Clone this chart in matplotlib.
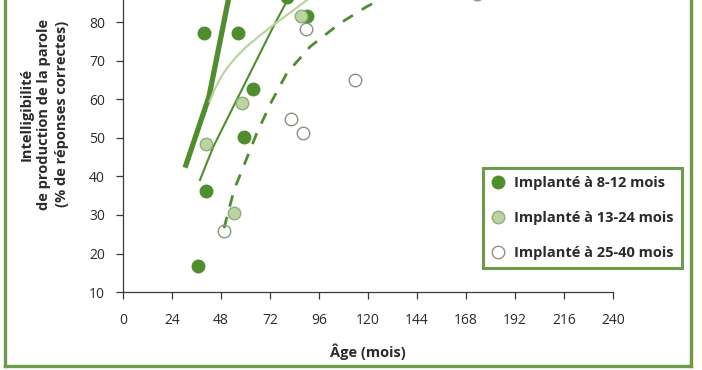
import numpy as np
import matplotlib.pyplot as plt
from matplotlib.lines import Line2D

# points (age in months, % correct)
age_8_12 = [36.7, 39.7, 40.6, 56.2, 59.4, 63.5, 80.5, 90.1]
score_8_12 = [16.8, 77.3, 36.3, 77.3, 50.3, 62.6, 86.5, 81.7]

age_13_24 = [40.5, 54.5, 58.4, 87.2]
score_13_24 = [48.4, 30.5, 59.0, 81.7]

age_25_40 = [49.3, 82.1, 88.3, 89.6, 113.6, 173.4]
score_25_40 = [25.9, 54.9, 51.4, 78.3, 65.1, 87.5]

# trend curves, traced by eye
thick_age = [30.4, 42.1, 52.4]
thick_score = [42.3, 60.7, 88.0]

thin_age = [37.7, 44.2, 54.0, 63.8, 73.6, 80.5, 82.0]
thin_score = [39.1, 47.7, 58.1, 68.5, 78.9, 85.8, 87.5]

light_age = [42.5, 45.0, 48.0, 51.0, 55.0, 60.0, 67.0, 75.0, 82.0, 89.0, 93.0]
light_score = [59.5, 62.8, 65.8, 68.2, 70.8, 73.5, 76.6, 79.9, 82.6, 85.4, 87.0]

dash_age = [49.5, 54.4, 59.7, 65.5, 72.5, 80.2, 91.6, 106.3, 119.3, 128.0]
dash_score = [26.6, 36.5, 43.5, 51.2, 59.2, 66.8, 73.7, 79.8, 84.1, 86.5]

xticks = [0, 24, 48, 72, 96, 120, 144, 168, 192, 216, 240]
yticks = [10, 20, 30, 40, 50, 60, 70, 80]

dark = "#4f8d2e"
light = "#bcd3a3"
light_edge = "#8fae78"
open_edge = "#8a9484"
frame_green = "#6b9b4b"
text_col = "#2b2b2b"

plt.rcParams['font.family'] = ['Open Sans', 'DejaVu Sans']

fig = plt.figure(figsize=(7.02, 3.70), dpi=100)
ax = fig.add_axes([123 / 702, 78 / 370, 490 / 702, 292 / 370])

ax.plot(thick_age, thick_score, color=dark, linewidth=3.8, solid_capstyle="butt")
ax.plot(thin_age, thin_score, color=dark, linewidth=1.5)
ax.plot(light_age, light_score, color=light, linewidth=1.6)
ax.plot(dash_age, dash_score, color=dark, linewidth=2.0, dashes=(4.2, 3.8))

ax.plot(age_8_12, score_8_12, "o", ms=9, color=dark, mec=dark)
ax.plot(age_13_24, score_13_24, "o", ms=9, mfc=light, mec=light_edge, mew=1.0)
ax.plot(age_25_40, score_25_40, "o", ms=9, mfc="none", mec=open_edge, mew=1.0)

ax.set_xlim(0, 240)
ax.set_ylim(10, 10 + 292 / 3.85)
ax.set_xticks(xticks)
ax.set_yticks(yticks)
for s in ["top", "right"]:
    ax.spines[s].set_visible(False)
for s in ["left", "bottom"]:
    ax.spines[s].set_color("#3a3a3a")
    ax.spines[s].set_linewidth(0.9)
ax.tick_params(direction="out", length=5, width=0.9, color="#3a3a3a",
               labelsize=10, labelcolor=text_col)
ax.tick_params(axis="x", pad=10)
ax.tick_params(axis="y", pad=8)

ax.set_xlabel("Âge (mois)", fontsize=10.5, fontweight="bold", color=text_col, labelpad=11)
fig.text(44 / 702, 1 - 114 / 370,
         "Intelligibilité\nde production de la parole\n(% de réponses correctes)",
         rotation=90, ha="center", va="center", fontsize=10.5,
         fontweight="bold", color=text_col, linespacing=1.35)

handles = [
    Line2D([], [], ls="none", marker="o", ms=9, color=dark),
    Line2D([], [], ls="none", marker="o", ms=9, mfc=light, mec=light_edge),
    Line2D([], [], ls="none", marker="o", ms=9, mfc="none", mec=open_edge),
]
labels = ["Implanté à 8-12 mois", "Implanté à 13-24 mois", "Implanté à 25-40 mois"]
leg = fig.legend(handles, labels, loc="upper left",
                 bbox_to_anchor=(483 / 702, 1 - 168 / 370),
                 fancybox=False, framealpha=1, handletextpad=0.6,
                 handlelength=1.0, labelspacing=1.45, borderpad=0.55,
                 borderaxespad=0, prop={"size": 10.5, "weight": "bold"})
leg.get_frame().set_edgecolor(frame_green)
leg.get_frame().set_linewidth(2.2)
for t in leg.get_texts():
    t.set_color(text_col)

# green frame around the figure (top is cut off in the source)
fig.add_artist(Line2D([5 / 702, 5 / 702], [4 / 370, 1], color=frame_green, lw=2.4))
fig.add_artist(Line2D([691 / 702, 691 / 702], [4 / 370, 1], color=frame_green, lw=2.4))
fig.add_artist(Line2D([5 / 702, 691 / 702], [4 / 370, 4 / 370], color=frame_green, lw=2.4))

fig.savefig("out.png", dpi=100)
